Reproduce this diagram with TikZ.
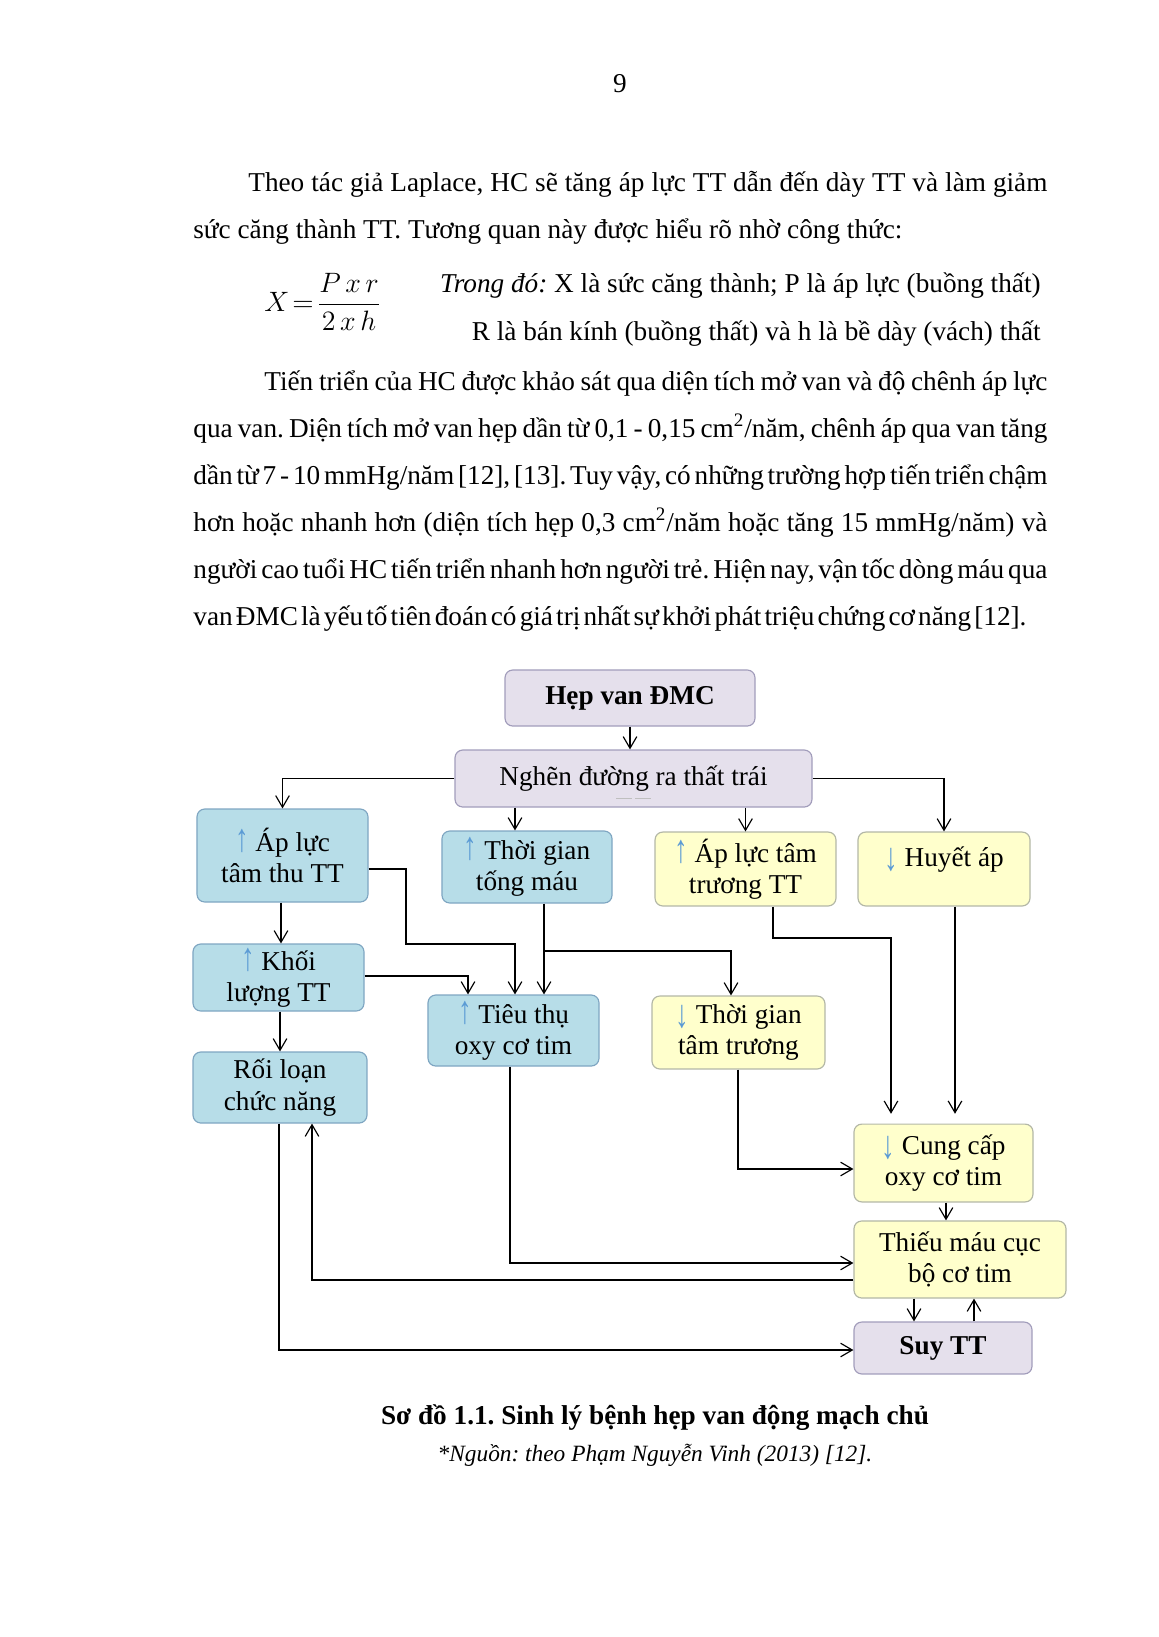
\documentclass[tikz,border=0pt]{standalone}
\usepackage{fontspec}
\setmainfont{Liberation Serif}
\usepackage{amsmath}
\usetikzlibrary{arrows.meta}
\definecolor{boxblue}{HTML}{B7DDE8}
\definecolor{edgeblue}{HTML}{7FA6C2}
\definecolor{boxyellow}{HTML}{FFFFCC}
\definecolor{edgeyellow}{HTML}{B3B7A6}
\definecolor{boxlav}{HTML}{E5E0EC}
\definecolor{edgelav}{HTML}{A29DBB}
\definecolor{arrblue}{HTML}{5B9BD5}
\newcommand\tang{\textcolor{arrblue}{\scalebox{1}[1.45]{↑}}}
\newcommand\giam{\textcolor{arrblue}{\raisebox{-2pt}{\scalebox{1}[1.45]{↓}}}}
\newcommand\fs{\fontsize{14}{16}\selectfont}
\newcommand\jl[2]{\makebox[#1][s]{\spaceskip=0.25em plus 1em minus 0.2em #2}}
\frenchspacing
\tikzset{
  txt/.style={anchor=base west, inner sep=0pt, font=\fs},
  box/.style={rounded corners=4pt, line width=0.6pt, align=center, inner sep=2pt, font=\fs},
  bluebox/.style={box, fill=boxblue, draw=edgeblue},
  yelbox/.style={box, fill=boxyellow, draw=edgeyellow},
  lavbox/.style={box, fill=boxlav, draw=edgelav},
  arr/.style={-{Straight Barb[length=6pt,width=7pt]}, line width=0.6pt}
}
\begin{document}
\frenchspacing
\begin{tikzpicture}[x=0.514pt, y=-0.514pt]
\useasboundingbox (0,0) rectangle (1158,1637);
% page text
\node[txt, anchor=base] (pg) at (620,92) {9};
\node[txt] (p1a) at (248,191) {\jl{410.7pt}{Theo tác giả Laplace, HC sẽ tăng áp lực TT dẫn đến dày TT và làm giảm}};
\node[txt] (p1b) at (193,238) {sức căng thành TT. Tương quan này được hiểu rõ nhờ công thức:};
\node[txt, anchor=west] (fx) at (264,302) {$X\!=\!\dfrac{P\,x\,r}{2\,x\,h}$};
\node[txt, anchor=base east] (tr1) at (1041,292) {\textit{Trong đó:} X là sức căng thành; P là áp lực (buồng thất)};
\node[txt, anchor=base east] (tr2) at (1041,340) {R là bán kính (buồng thất) và h là bề dày (vách) thất};
\node[txt] (p2a) at (264,390) {\jl{402.5pt}{Tiến triển của HC được khảo sát qua diện tích mở van và độ chênh áp lực}};
\node[txt] (p2b) at (193,437) {\jl{439pt}{qua van. Diện tích mở van hẹp dần từ 0,1 - 0,15 cm\textsuperscript{2}/năm, chênh áp qua van tăng}};
\node[txt] (p2c) at (193,484) {\jl{439pt}{dần từ 7 - 10 mmHg/năm [12], [13]. Tuy vậy, có những trường hợp tiến triển chậm}};
\node[txt] (p2d) at (193,531) {\jl{439pt}{hơn hoặc nhanh hơn (diện tích hẹp 0,3 cm\textsuperscript{2}/năm hoặc tăng 15 mmHg/năm) và}};
\node[txt] (p2e) at (193,578) {\jl{439pt}{người cao tuổi HC tiến triển nhanh hơn người trẻ. Hiện nay, vận tốc dòng máu qua}};
\node[txt] (p2f) at (193,625) {\jl{428.2pt}{van ĐMC là yếu tố tiên đoán có giá trị nhất sự khởi phát triệu chứng cơ năng [12].}};

% boxes
\node[lavbox, minimum width=128.5pt, minimum height=28.8pt, font=\fs\bfseries] (hep) at (630,698) {Hẹp van ĐMC};
\node[lavbox, minimum width=183.5pt, minimum height=29.3pt] (nghen) at (633.5,778.5) {Nghẽn đường ra thất trái};
\draw[gray!50, line width=0.4pt, dash pattern=on 8pt off 2pt] (616,798) -- (653,798);
\node[bluebox, minimum width=87.9pt, minimum height=47.8pt] (apthu) at (282.5,855.5) {\tang{} Áp lực\\tâm thu TT};
\node[bluebox, minimum width=87.4pt, minimum height=37pt] (tongmau) at (527,867) {\tang{} Thời gian\\tống máu};
\node[yelbox, minimum width=93pt, minimum height=38pt] (aptruong) at (745.5,869) {\tang{} Áp lực tâm\\trương TT};
\node[yelbox, minimum width=88.4pt, minimum height=38pt, text depth=13pt] (huyetap) at (944,869) {\giam{} Huyết áp};
\node[bluebox, minimum width=87.9pt, minimum height=33.4pt] (khoiluong) at (278.5,977.5) {\tang{} Khối\\lượng TT};
\node[bluebox, minimum width=87.9pt, minimum height=36.5pt] (tieuthu) at (513.5,1030.5) {\tang{} Tiêu thụ\\oxy cơ tim};
\node[yelbox, minimum width=88.9pt, minimum height=37.5pt] (tgtruong) at (738.5,1032.5) {\giam{} Thời gian\\tâm trương};
\node[bluebox, minimum width=89.4pt, minimum height=36.5pt] (roiloan) at (280,1087.5) {Rối loạn\\chức năng};
\node[yelbox, minimum width=92pt, minimum height=40pt] (cungcap) at (943.5,1163) {\giam{} Cung cấp\\oxy cơ tim};
\node[yelbox, minimum width=109pt, minimum height=39.6pt] (thieumau) at (960,1259.5) {Thiếu máu cục\\bộ cơ tim};
\node[lavbox, minimum width=91.5pt, minimum height=26.7pt, font=\fs\bfseries] (suytt) at (943,1348) {Suy TT};

% connectors
\coordinate (xb) at (515,0);
\coordinate (xk) at (281,0);
\coordinate (e1) at (406,869);
\coordinate (e2) at (515,944);
\coordinate (f1) at (544,951);
\coordinate (g1) at (731,951);
\coordinate (h1) at (468,976);
\coordinate (i1) at (773,938);
\coordinate (i2) at (891,938);
\coordinate (j1) at (955,0);
\coordinate (k1) at (738,1169);
\coordinate (l1) at (510,1263);
\coordinate (m1) at (312,1280);
\coordinate (n1) at (279,1350);
\coordinate (o1) at (946,0);
\coordinate (q1) at (914,0);
\coordinate (q2) at (974,0);
\draw[arr] (hep.south) -- (hep.south |- nghen.north);
\draw[arr] (nghen.west) -| (apthu.north);
\draw[arr] (nghen.south -| xb) -- (tongmau.north -| xb);
\draw[arr] (nghen.south -| aptruong.north) -- (aptruong.north);
\draw[arr] (nghen.east) -| (huyetap.north);
\draw[arr] (apthu.south -| xk) -- (khoiluong.north -| xk);
\draw[arr] (apthu.east |- e1) -- (e1) |- (e2) -- (tieuthu.north -| e2);
\draw[arr] (tongmau.south -| f1) -- (tieuthu.north -| f1);
\draw[arr] (f1) -- (g1) -- (tgtruong.north -| g1);
\draw[arr] (khoiluong.east |- h1) -| (tieuthu.north -| h1);
\draw[arr] (khoiluong.south -| roiloan.north) -- (roiloan.north);
\draw[arr, shorten >=5pt] (aptruong.south -| i1) -- (i1) -- (i2) -- (cungcap.north -| i2);
\draw[arr, shorten >=5pt] (huyetap.south -| j1) -- (cungcap.north -| j1);
\draw[arr] (tgtruong.south -| k1) -- (k1) -- (cungcap.west |- k1);
\draw[arr] (tieuthu.south -| l1) -- (l1) -- (thieumau.west |- l1);
\draw[arr] (thieumau.west |- m1) -- (m1) -- (roiloan.south -| m1);
\draw[arr] (roiloan.south -| n1) -- (n1) -- (suytt.west |- n1);
\draw[arr] (cungcap.south -| o1) -- (thieumau.north -| o1);
\draw[arr] (thieumau.south -| q1) -- (suytt.north -| q1);
\draw[arr] (suytt.north -| q2) -- (thieumau.south -| q2);

% caption
\node[txt, anchor=base, font=\fs\bfseries] (cap) at (655,1424) {Sơ đồ 1.1. Sinh lý bệnh hẹp van động mạch chủ};
\node[txt, anchor=base, font=\fontsize{12}{14}\selectfont\itshape] (src) at (655,1461) {*Nguồn: theo Phạm Nguyễn Vinh (2013) [12].};
\end{tikzpicture}
\end{document}
